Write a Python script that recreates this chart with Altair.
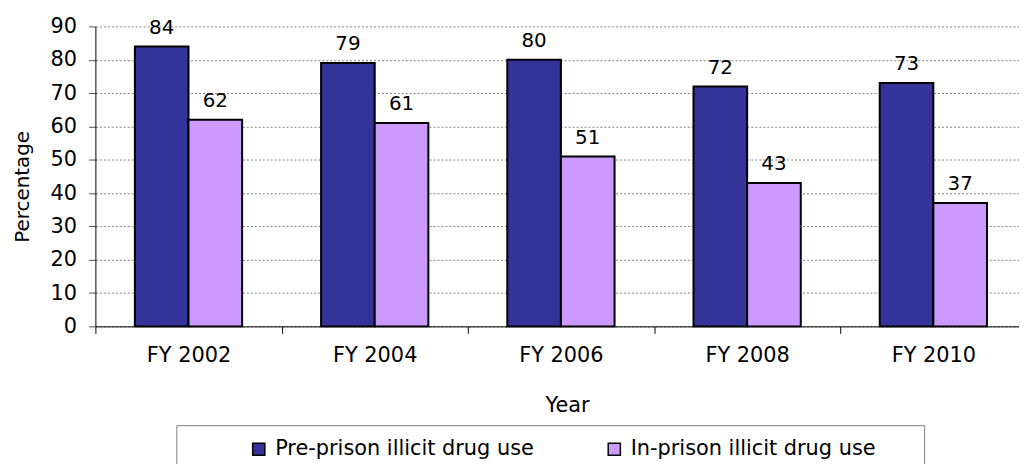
import altair as alt
import pandas as pd

years = ["FY 2002", "FY 2004", "FY 2006", "FY 2008", "FY 2010"]
series = ["Pre-prison illicit drug use", "In-prison illicit drug use"]
pre_prison = [84, 79, 80, 72, 73]
in_prison = [62, 61, 51, 43, 37]
colors = ["#333399", "#CC99FF"]

rows = []
for i, y in enumerate(years):
    rows.append({"year": y, "series": series[0], "value": pre_prison[i]})
    rows.append({"year": y, "series": series[1], "value": in_prison[i]})
df = pd.DataFrame(rows)

FONT = "DejaVu Sans"

x_enc = alt.X(
    "year:N", sort=years,
    scale=alt.Scale(paddingInner=0, paddingOuter=0, range=[0, 937.5]),
    axis=alt.Axis(title="Year", tickBand="extent", labelAngle=0, grid=False,
                  domainColor="black", tickColor="black", tickSize=7,
                  labelPadding=11, labelFontSize=21, labelColor="black",
                  titleFontSize=21, titleFontWeight="normal", titleColor="black",
                  titleX=475, titleY=80, titleBaseline="middle"),
)
xo_enc = alt.XOffset("series:N", sort=series,
                     scale=alt.Scale(paddingInner=0, paddingOuter=0.736))
y_enc = alt.Y(
    "value:Q",
    scale=alt.Scale(domain=[0, 90]),
    axis=alt.Axis(title="Percentage", values=list(range(0, 91, 10)), grid=True,
                  gridDash=[2, 2], gridColor="#808080", gridWidth=1,
                  domainColor="black", tickColor="#555555", tickSize=7,
                  labelPadding=12, labelFontSize=21, labelColor="black",
                  titleFontSize=20, titleFontWeight="normal", titleColor="black",
                  titleX=-73, titleY=161, titleBaseline="middle"),
)

base = alt.Chart(df)

bars = base.mark_bar(stroke="black", strokeWidth=2).encode(
    x=x_enc, xOffset=xo_enc, y=y_enc,
    color=alt.Color("series:N", sort=series,
                    scale=alt.Scale(domain=series, range=colors),
                    legend=alt.Legend(title=None, orient="none", legendX=154, legendY=415,
                                      direction="horizontal", columns=2, columnPadding=70,
                                      symbolType="square", symbolSize=150,
                                      symbolStrokeColor="black", symbolStrokeWidth=1.5,
                                      labelFontSize=21, labelColor="black", labelOffset=6,
                                      labelLimit=400, padding=0)),
)

labels = base.mark_text(dy=-19, fontSize=20, font=FONT, color="black",
                        baseline="middle").encode(
    x=x_enc, xOffset=xo_enc, y=y_enc, text="value:Q"
)

box = alt.Chart(pd.DataFrame({"k": [0]})).mark_rect(
    fillOpacity=0, stroke="#808080", strokeWidth=1
).encode(
    x=alt.value(82), x2=alt.value(835), y=alt.value(402), y2=alt.value(470)
)

chart = alt.layer(box, bars, labels).properties(
    width=930, height=302,
    autosize=alt.AutoSizeParams(type="none"),
    padding={"left": 88, "top": 17, "right": 0, "bottom": 137},
).configure(font=FONT).configure_view(strokeWidth=0)

chart.save("out.html", embed_options={"renderer": "svg", "actions": False})
